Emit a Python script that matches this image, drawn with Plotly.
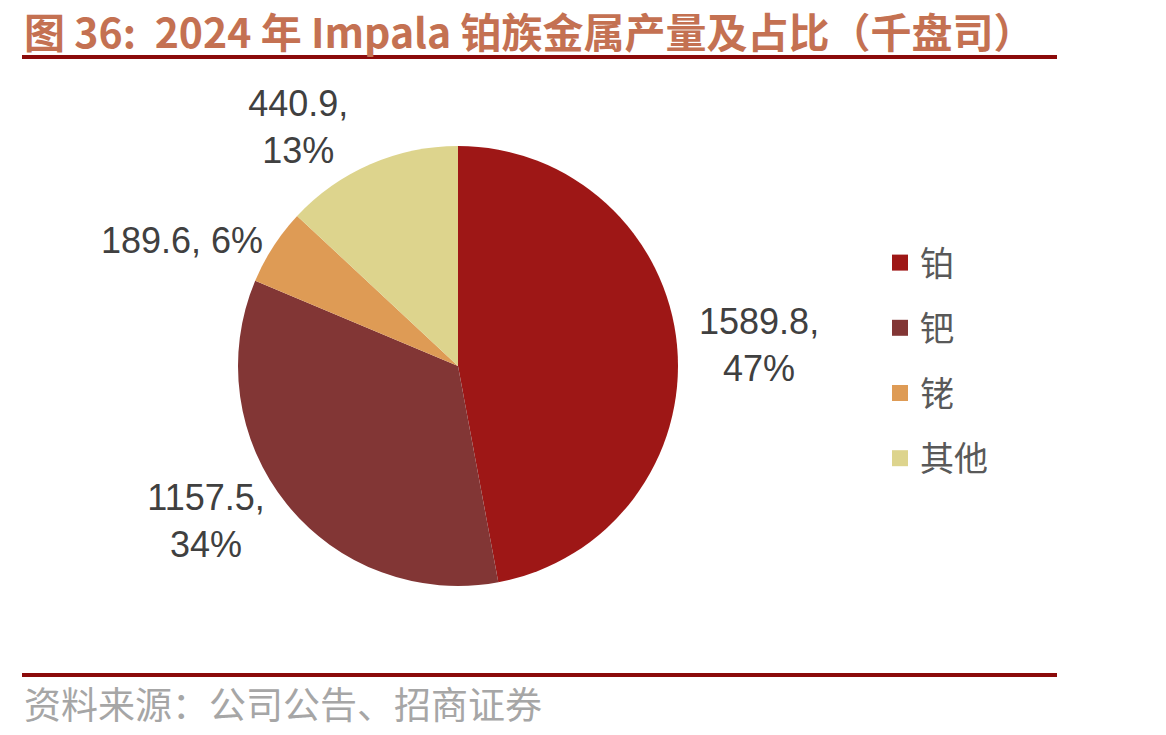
import plotly.graph_objects as go

# 2024 Impala PGM output (koz)
labels = ["铂", "钯", "铑", "其他"]
values = [1589.8, 1157.5, 189.6, 440.9]
colors = ["#9E1716", "#823635", "#DE9B55", "#DDD48D"]
seps = [",<br>", ",<br>", ", ", ",<br>"]

title_text = "图 36:  2024 年 Impala 铂族金属产量及占比（千盘司）"
source_text = "资料来源：公司公告、招商证券"

W, H = 1166, 735

total = sum(values)
texts = [f"{v:.1f}{s}{round(v / total * 100):.0f}%" for v, s in zip(values, seps)]

fig = go.Figure(go.Pie(
    labels=labels,
    values=values,
    text=texts,
    textinfo="text",
    textposition="outside",
    sort=False,
    direction="clockwise",
    rotation=0,
    marker=dict(colors=colors, line=dict(width=0)),
    textfont=dict(family="Liberation Sans, Arial", size=36, color="#404040"),
    domain=dict(x=[238 / W, 678 / W], y=[1 - 586 / H, 1 - 146 / H]),
    showlegend=False,
))

# legend entries drawn as empty scatter traces so the swatches can be bigger
for lab, col in zip(labels, colors):
    fig.add_trace(go.Scatter(
        x=[None], y=[None], mode="markers", name=lab, legendgroup=lab,
        marker=dict(symbol="square", size=24, color=col, line=dict(width=0)),
    ))

fig.update_xaxes(visible=False)
fig.update_yaxes(visible=False)

fig.update_layout(
    width=W, height=H,
    margin=dict(l=0, r=0, t=0, b=0),
    paper_bgcolor="white",
    plot_bgcolor="white",
    showlegend=True,
    legend=dict(
        x=880 / W, y=1 - 234 / H, xanchor="left", yanchor="top",
        font=dict(family="Noto Sans CJK SC", size=34, color="#595959"),
        itemsizing="trace",
        tracegroupgap=18,
    ),
    shapes=[
        dict(type="line", xref="paper", yref="paper",
             x0=22 / W, x1=1057 / W, y0=1 - 57 / H, y1=1 - 57 / H,
             line=dict(color="#8B0A0A", width=4)),
        dict(type="line", xref="paper", yref="paper",
             x0=22 / W, x1=1057 / W, y0=1 - 675 / H, y1=1 - 675 / H,
             line=dict(color="#8B0A0A", width=4)),
    ],
    annotations=[
        dict(text=f"<b>{title_text}</b>", xref="paper", yref="paper",
             x=22 / W, y=1 - 30 / H, xanchor="left", yanchor="middle",
             showarrow=False,
             font=dict(family="Noto Sans CJK SC", size=41, color="#C47152")),
        dict(text=source_text, xref="paper", yref="paper",
             x=22 / W, y=1 - 703 / H, xanchor="left", yanchor="middle",
             showarrow=False,
             font=dict(family="Noto Sans CJK SC", size=37, color="#A6A6A6")),
    ],
)

fig.write_html("out.html", config={"displayModeBar": False},
               post_script="document.body.style.margin='0px';")
